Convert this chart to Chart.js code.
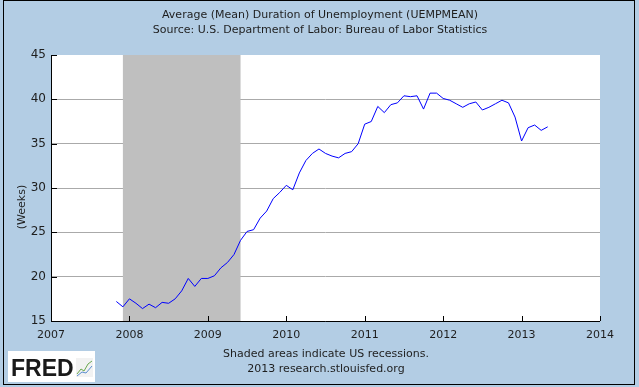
<!DOCTYPE html>
<html>
<head>
<meta charset="utf-8">
<script src="https://cdn.jsdelivr.net/npm/chart.js@4.4.1/dist/chart.umd.min.js"></script>
<style>
html, body { margin: 0; padding: 0; background: #fff; }
canvas { display: block; }
</style>
</head>
<body>
<canvas id="dataChart" width="639" height="387"></canvas>
<script>
// UEMPMEAN, monthly, first value is Nov 2007
const firstYear = 2007;
const firstMonth = 11;
const weeks = [
    17.2, 16.6,
    17.5, 17.0, 16.4, 16.9, 16.5, 17.1, 17.0, 17.5, 18.4, 19.8, 18.9, 19.8,
    19.8, 20.1, 21.0, 21.6, 22.5, 24.1, 25.1, 25.3, 26.6, 27.4, 28.8, 29.5,
    30.3, 29.8, 31.7, 33.1, 33.9, 34.4, 33.9, 33.6, 33.4, 33.9, 34.1, 35.0,
    37.2, 37.5, 39.2, 38.5, 39.4, 39.6, 40.4, 40.3, 40.4, 38.9, 40.7, 40.7,
    40.1, 39.9, 39.5, 39.1, 39.5, 39.7, 38.8, 39.1, 39.5, 39.9, 39.6, 38.0,
    35.3, 36.8, 37.1, 36.5, 36.9
];
const yearTicks = [2007, 2008, 2009, 2010, 2011, 2012, 2013, 2014];
const weekTicks = [15, 20, 25, 30, 35, 40, 45];
// recession: Dec 2007 through Jun 2009
const recessionStart = 2007 + 11 / 12;
const recessionEnd = 2009 + 5 / 12;

const titleLines = [
    'Average (Mean) Duration of Unemployment (UEMPMEAN)',
    'Source: U.S. Department of Labor: Bureau of Labor Statistics'
];
const footLines = [
    'Shaded areas indicate US recessions.',
    '2013 research.stlouisfed.org'
];

const points = weeks.map((v, i) => {
    const m = firstMonth - 1 + i;
    return { x: firstYear + m / 12, y: v };
});

const bgBlue = '#B3CDE4';
const textColor = '#1e1e1e';

Chart.defaults.font.family = "'DejaVu Sans', Verdana, sans-serif";

const fredFrame = {
    id: 'fredFrame',
    beforeDraw(chart) {
        const c = chart.ctx;
        const a = chart.chartArea;
        c.save();
        c.fillStyle = bgBlue;
        c.fillRect(0, 0, chart.width, chart.height);
        c.fillStyle = '#fff';
        c.fillRect(a.left, a.top, a.right - a.left, a.bottom - a.top);
        c.strokeStyle = '#000';
        c.lineWidth = 1;
        c.strokeRect(3.5, 0.5, 631, 384);
        c.restore();
    },
    beforeDatasetsDraw(chart) {
        const c = chart.ctx;
        const a = chart.chartArea;
        const xs = chart.scales.x;
        const x0 = xs.getPixelForValue(recessionStart);
        const x1 = xs.getPixelForValue(recessionEnd);
        c.save();
        c.fillStyle = '#BFBFBF';
        c.fillRect(x0, a.top, x1 - x0, a.bottom - a.top);
        c.restore();
    },
    afterDatasetsDraw(chart) {
        const c = chart.ctx;
        const a = chart.chartArea;
        const xs = chart.scales.x;
        const ys = chart.scales.y;
        c.save();
        c.strokeStyle = '#000';
        c.lineWidth = 1;
        c.beginPath();
        // axis lines
        c.moveTo(a.left + 0.5, a.top);
        c.lineTo(a.left + 0.5, a.bottom + 0.5);
        c.lineTo(a.right, a.bottom + 0.5);
        // inward ticks
        yearTicks.forEach(t => {
            const px = Math.round(xs.getPixelForValue(t)) + 0.5;
            c.moveTo(px, a.bottom);
            c.lineTo(px, a.bottom - 5);
        });
        weekTicks.forEach(t => {
            const py = Math.round(ys.getPixelForValue(t)) + 0.5;
            c.moveTo(a.left, py);
            c.lineTo(a.left + 6, py);
        });
        c.stroke();

        // titles and notes
        c.fillStyle = textColor;
        c.font = "11px 'DejaVu Sans'";
        c.textAlign = 'center';
        c.textBaseline = 'middle';
        c.fillText(titleLines[0], 320, 15);
        c.fillText(titleLines[1], 320, 30);
        c.fillText(footLines[0], 326, 354);
        c.fillText(footLines[1], 326, 369);

        // y axis title
        c.save();
        c.translate(22, 207);
        c.rotate(-Math.PI / 2);
        c.fillText('(Weeks)', 0, 0);
        c.restore();

        // FRED badge
        c.fillStyle = '#fff';
        c.fillRect(8, 351, 87, 31);
        c.fillStyle = '#1a1a1a';
        c.font = "bold 23px 'Liberation Sans'";
        c.textAlign = 'left';
        c.textBaseline = 'alphabetic';
        c.fillText('FRED', 11, 376);
        c.fillStyle = '#f2f2f2';
        c.fillRect(76, 358, 17, 19);
        c.lineWidth = 1;
        c.strokeStyle = '#6aa84f';
        c.beginPath();
        c.moveTo(77, 374); c.lineTo(81, 369); c.lineTo(84, 371); c.lineTo(88, 364); c.lineTo(92, 361);
        c.stroke();
        c.strokeStyle = '#5b8fd0';
        c.beginPath();
        c.moveTo(77, 376); c.lineTo(82, 372); c.lineTo(86, 373); c.lineTo(92, 366);
        c.stroke();
        c.restore();
    }
};

const ctx = document.getElementById('dataChart').getContext('2d');
const chart = new Chart(ctx, {
    type: 'line',
    data: {
        datasets: [{
            label: 'UEMPMEAN',
            data: points,
            borderColor: '#0000FF',
            borderWidth: 1,
            pointRadius: 0,
            tension: 0,
            fill: false
        }]
    },
    options: {
        responsive: false,
        animation: false,
        layout: { padding: { left: 0, top: 55, right: 39, bottom: 0 } },
        plugins: {
            legend: { display: false },
            tooltip: { enabled: false }
        },
        scales: {
            x: {
                type: 'linear',
                min: 2007,
                max: 2014,
                afterBuildTicks: s => { s.ticks = yearTicks.map(v => ({ value: v })); },
                afterFit: s => { s.height = 66; },
                grid: { display: false, drawTicks: false },
                border: { display: false },
                ticks: {
                    callback: v => String(v),
                    color: textColor,
                    font: { size: 11 },
                    padding: 8,
                    maxRotation: 0,
                    autoSkip: false
                }
            },
            y: {
                min: 15,
                max: 45,
                afterBuildTicks: s => { s.ticks = weekTicks.map(v => ({ value: v })); },
                afterFit: s => { s.width = 51; },
                grid: {
                    drawTicks: false,
                    color: c => (c.tick && (c.tick.value === 15 || c.tick.value === 45)) ? 'rgba(0,0,0,0)' : '#AAAAAA'
                },
                border: { display: false },
                ticks: {
                    color: textColor,
                    font: { size: 12 },
                    padding: 5
                }
            }
        }
    },
    plugins: [fredFrame]
});
</script>
</body>
</html>
